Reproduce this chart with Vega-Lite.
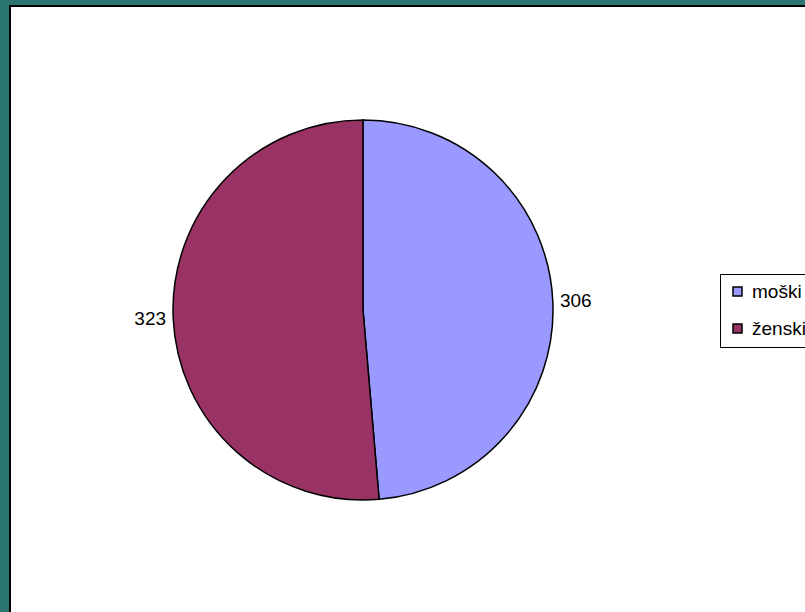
{
  "$schema": "https://vega.github.io/schema/vega-lite/v6.json",
  "width": 797,
  "height": 608,
  "autosize": {"type": "none"},
  "padding": {"left": 10, "top": 6, "right": 0, "bottom": 0},
  "background": "#2b7671",
  "view": {"fill": "white", "stroke": "black", "strokeWidth": 2},
  "config": {
    "font": "Liberation Sans"
  },
  "data": {
    "values": [
      {"spol": "moški", "stevilo": 306},
      {"spol": "ženski", "stevilo": 323}
    ]
  },
  "encoding": {
    "theta": {"field": "stevilo", "type": "quantitative", "stack": true},
    "color": {
      "field": "spol",
      "type": "nominal",
      "scale": {"domain": ["moški", "ženski"], "range": ["#9999ff", "#993366"]},
      "legend": {
        "title": null,
        "orient": "none",
        "legendX": 710,
        "legendY": 268,
        "strokeColor": "black",
        "fillColor": "white",
        "padding": 8,
        "symbolType": "square",
        "symbolSize": 81,
        "symbolStrokeColor": "black",
        "symbolStrokeWidth": 1.5,
        "symbolOpacity": 1,
        "labelFont": "Liberation Sans",
        "labelFontSize": 19,
        "labelColor": "black",
        "rowPadding": 17,
        "labelOffset": 5
      }
    }
  },
  "layer": [
    {
      "mark": {"type": "arc", "outerRadius": 190, "x": 353, "y": 304, "stroke": "black", "strokeWidth": 1.5}
    },
    {
      "mark": {"type": "text", "radius": 213, "x": 353, "y": 304, "fontSize": 19, "font": "Liberation Sans", "color": "black"},
      "encoding": {
        "text": {"field": "stevilo", "type": "quantitative"},
        "color": {"value": "black"}
      }
    }
  ]
}
